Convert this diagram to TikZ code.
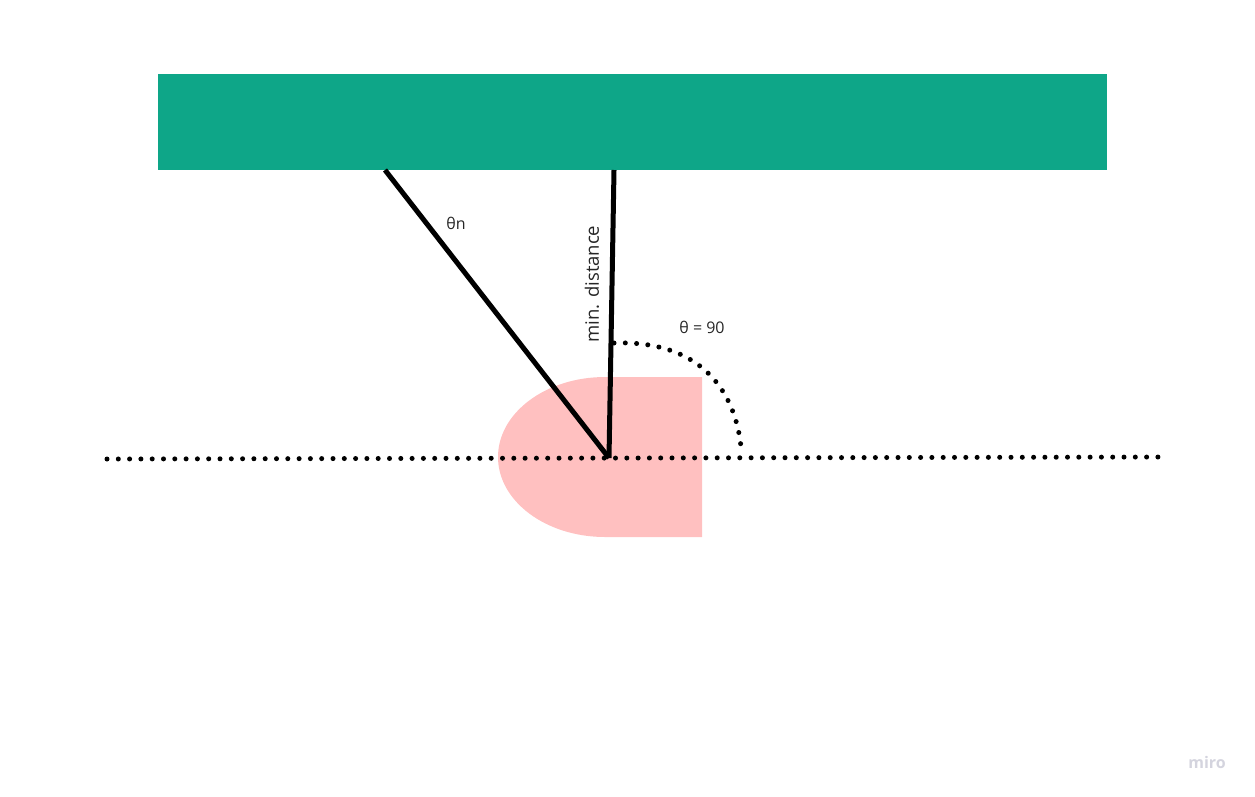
\documentclass[tikz,border=0pt]{standalone}
\usepackage{fontspec}
\setmainfont{Open Sans}
\begin{document}
\begin{tikzpicture}[x=1pt,y=-1pt,
  thick line/.style={line width=5pt,black},
  dotline/.style={line width=5pt,line cap=round,dash pattern=on 0pt off 11.3pt,black},
  lbl/.style={font=\fontsize{16}{18}\selectfont,text=black!85,inner sep=0pt}]
\useasboundingbox (0,0) rectangle (1255,796);
\definecolor{teal}{HTML}{0EA688}
\definecolor{pinkish}{HTML}{FFC0C0}
\definecolor{mirogray}{HTML}{D4D4DE}
% wall
\fill[teal] (158,74) rectangle (1107,170);
% robot
\fill[pinkish] (605,377) -- (702,377) -- (702,537) -- (605,537)
  arc[start angle=90,end angle=270,x radius=107,y radius=80] -- cycle;
\coordinate (O) at (609,458);
\coordinate (A) at (385,170);
\coordinate (B) at (614,170);
\coordinate (L) at (107,459);
\coordinate (R) at (1163,457);
\coordinate (S) at (614,343);
\coordinate (E) at (741,447);
% dotted ground line
\draw[dotline] (L) -- (R);
% rays
\draw[thick line] (A) -- (O);
\draw[thick line] (B) -- (O);
% dotted arc
\draw[dotline] (S) .. controls (700,340) and (735,390) .. (E);
% labels
\node[lbl] (tn) at (456,223) {θn};
\node[lbl,rotate=90,font=\fontsize{18.5}{20}\selectfont] (md) at (592,284) {min. distance};
\node[lbl] (t90) at (702,327) {θ = 90};
\node[font=\bfseries\fontsize{16}{18}\selectfont,text=mirogray,inner sep=0pt] (miro) at (1207,762) {miro};
\end{tikzpicture}
\end{document}
